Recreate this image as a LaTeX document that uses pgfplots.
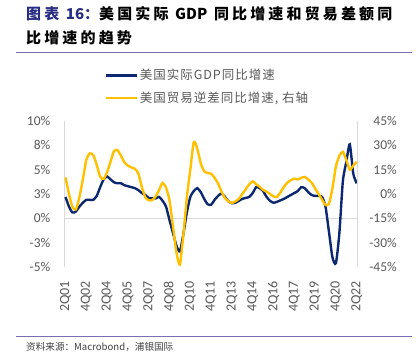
\documentclass[border=0pt]{standalone}
\usepackage{fontspec}
\setmainfont{Carlito}
\newfontfamily\cjk[LetterSpace=8]{Noto Sans CJK SC}
\newfontfamily\cjkt[LetterSpace=21]{Noto Sans CJK SC}
\newfontfamily\cjks{Noto Sans CJK SC}
\usepackage{pgfplots}
\pgfplotsset{compat=1.18}
\usepackage{pgfplotstable}

\definecolor{gdpblue}{RGB}{12,40,112}
\definecolor{tradeyellow}{RGB}{255,192,0}
\definecolor{ticklab}{RGB}{89,89,89}
\definecolor{axgray}{RGB}{217,217,217}
\definecolor{sepline}{RGB}{120,110,180}
\definecolor{titlenavy}{RGB}{40,45,130}

\pgfplotstableread{
i gdp trade
0 2.2 10.2
1 1.2 0
2 0.6 -8
3 0.7 -9.5
4 1.2 -2
5 1.6 9
6 1.9 21
7 1.9 25
8 1.9 24
9 2.3 18
10 3.2 10.6
11 4.0 9.3
12 4.3 13.5
13 4.0 20
14 3.7 26.5
15 3.6 27
16 3.6 23.5
17 3.4 19.5
18 3.3 17.5
19 3.2 16.4
20 3.1 15.5
21 2.9 12.7
22 2.6 4.5
23 2.4 -2
24 2.1 -3.8
25 2.05 -3.8
26 2.05 -1.5
27 2.2 2.5
28 1.8 6.8
29 1.2 4
30 -0.2 -4
31 -1.5 -20
32 -2.8 -36
33 -3.4 -43.5
34 -1.6 -25
35 0.6 -2
36 2.2 15
37 2.8 32
38 3.1 28
39 2.7 19
40 2.0 14
41 1.45 13
42 1.4 12.5
43 1.9 10
44 2.3 6.5
45 2.55 1.5
46 2.2 -2.5
47 1.75 -4.5
48 1.55 -5.5
49 1.6 -4.5
50 1.8 -3
51 2.0 0
52 2.1 3
53 2.2 6
54 2.6 7.8
55 3.2 6
56 3.1 4.5
57 2.8 2.5
58 2.2 1.5
59 1.8 0
60 1.6 -1.5
61 1.7 -1.8
62 1.85 1
63 2.0 4.4
64 2.2 7
65 2.4 8.5
66 2.6 9.5
67 2.8 9
68 3.2 10
69 3.1 10.5
70 2.7 9
71 2.4 7
72 2.3 3.4
73 2.3 0
74 2.2 -3.5
75 1.2 -6.8
76 -1.4 -6
77 -4.0 3.5
78 -4.6 17
79 -1.5 23.5
80 3.8 26
81 5.8 21
82 7.6 15
83 4.6 17.5
84 3.6 19.8
}\datatable

\pgfplotsset{
  base/.style={
    at={(64.3bp,95bp)}, anchor=south west,
    scale only axis, width=293.2bp, height=146bp,
    xmin=-0.35, xmax=84.23,
    major tick length=0pt,
    tick label style={font=\fontsize{13.5bp}{15bp}\selectfont, text=ticklab},
    /pgf/number format/assume math mode=true,
    clip=false,
  },
}

\begin{document}
\begin{tikzpicture}
\useasboundingbox (0bp,0bp) rectangle (417bp,362bp);
% title
\node[anchor=base west, inner sep=0pt] at (26bp,342bp)
  {\fontsize{15bp}{17bp}\selectfont\bfseries\textcolor{titlenavy}{\cjkt 图表\ {\cjks 16}：}\cjkt 美国实际 {\cjks GDP} 同比增速和贸易差额同};
\node[anchor=base west, inner sep=0pt] at (26bp,318.5bp)
  {\cjkt\bfseries\fontsize{15bp}{17bp}\selectfont 比增速的趋势};
\draw[sepline, line width=0.9bp] (16bp,310bp) -- (412bp,310bp);
\draw[sepline, line width=0.9bp] (16bp,26bp) -- (412bp,26bp);
\node[anchor=base west, inner sep=0pt, text={rgb,255:red,64;green,64;blue,64}] at (26bp,12bp)
  {\cjks\fontsize{9.6bp}{11bp}\selectfont 资料来源：Macrobond，浦银国际};

\begin{axis}[base,
  ymin=-5, ymax=10,
  axis x line*=bottom, x axis line style={draw=none},
  axis y line*=left, y axis line style={draw=axgray, line width=1.2bp},
  xtick={0,6,...,84},
  xticklabels={2Q01,4Q02,2Q04,4Q05,2Q07,4Q08,2Q10,4Q11,2Q13,4Q14,2Q16,4Q17,2Q19,4Q20,2Q22},
  xticklabel style={rotate=90, anchor=east, inner sep=0pt, xshift=-14bp, font=\fontsize{14bp}{15bp}\selectfont},
  ytick={-5,-2.5,0,2.5,5,7.5,10},
  yticklabels={-5\%,-3\%,0\%,3\%,5\%,8\%,10\%},
  yticklabel style={anchor=east, inner sep=0pt, xshift=-13.8bp},
]
\addplot[axgray, line width=1.5bp, forget plot] coordinates {(-0.35,0) (84.23,0)};
\addplot[gdpblue, line width=2.4bp, smooth, tension=0.4] table[x=i, y=gdp] {\datatable};
\end{axis}

\begin{axis}[base,
  ymin=-45, ymax=45,
  axis x line=none,
  axis y line*=right, y axis line style={draw=axgray, line width=1.2bp},
  ytick={-45,-30,...,45},
  yticklabels={-45\%,-30\%,-15\%,0\%,15\%,30\%,45\%},
  yticklabel style={anchor=east, inner sep=0pt, xshift=39.5bp},
  legend style={at={(0.136,1.369)}, anchor=north west, draw=none, fill=none,
    font=\cjk\fontsize{12.5bp}{14bp}\selectfont, text=ticklab, row sep=6.5bp, inner sep=0pt},
  legend cell align=left,
  legend image code/.code={\draw[#1, line width=2.4bp] (0bp,0bp) -- (31bp,0bp);},
]
\addlegendimage{gdpblue}
\addlegendentry{美国实际GDP同比增速}
\addplot[tradeyellow, line width=2.4bp, smooth, tension=0.4] table[x=i, y=trade] {\datatable};
\addlegendentry{美国贸易逆差同比增速, 右轴}
\end{axis}
\end{tikzpicture}
\end{document}
